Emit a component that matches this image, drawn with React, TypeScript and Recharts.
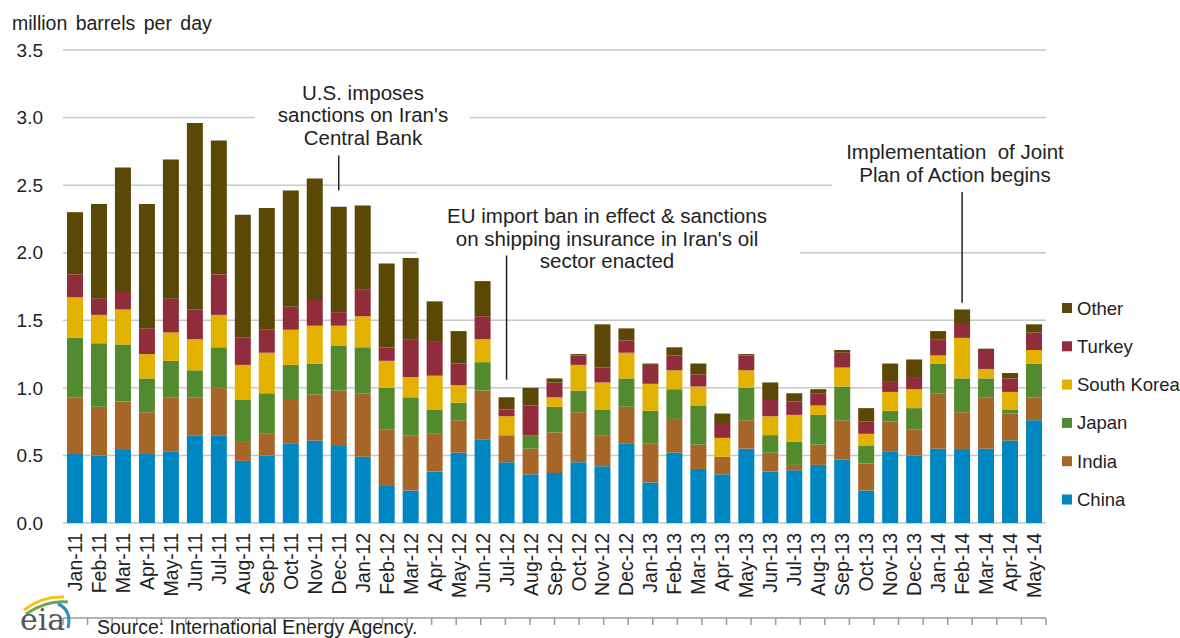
import React from "react";
import {
  BarChart,
  Bar,
  XAxis,
  YAxis,
  CartesianGrid,
  ReferenceLine,
} from "recharts";

const months = [
  "Jan-11", "Feb-11", "Mar-11", "Apr-11", "May-11", "Jun-11", "Jul-11", "Aug-11", "Sep-11", "Oct-11", "Nov-11", "Dec-11",
  "Jan-12", "Feb-12", "Mar-12", "Apr-12", "May-12", "Jun-12", "Jul-12", "Aug-12", "Sep-12", "Oct-12", "Nov-12", "Dec-12",
  "Jan-13", "Feb-13", "Mar-13", "Apr-13", "May-13", "Jun-13", "Jul-13", "Aug-13", "Sep-13", "Oct-13", "Nov-13", "Dec-13",
  "Jan-14", "Feb-14", "Mar-14", "Apr-14", "May-14",
];

const china = [
  0.51, 0.5, 0.54, 0.51, 0.53, 0.65, 0.65, 0.46, 0.5, 0.59, 0.61, 0.57,
  0.49, 0.28, 0.24, 0.38, 0.52, 0.62, 0.45, 0.36, 0.37, 0.45, 0.42, 0.59,
  0.3, 0.52, 0.4, 0.36, 0.55, 0.38, 0.39, 0.43, 0.47, 0.24, 0.53, 0.5,
  0.55, 0.54, 0.55, 0.61, 0.76,
];
const india = [
  0.42, 0.36, 0.36, 0.31, 0.4, 0.28, 0.35, 0.14, 0.16, 0.32, 0.34, 0.41,
  0.47, 0.41, 0.41, 0.28, 0.24, 0.36, 0.2, 0.19, 0.3, 0.37, 0.23, 0.27,
  0.29, 0.25, 0.18, 0.13, 0.21, 0.14, 0.04, 0.15, 0.29, 0.2, 0.22, 0.19,
  0.41, 0.28, 0.38, 0.2, 0.17,
];
const japan = [
  0.44, 0.47, 0.42, 0.25, 0.27, 0.2, 0.3, 0.31, 0.3, 0.26, 0.23, 0.33,
  0.34, 0.31, 0.28, 0.18, 0.13, 0.21, 0, 0.1, 0.19, 0.16, 0.19, 0.21,
  0.24, 0.22, 0.29, 0, 0.24, 0.13, 0.17, 0.22, 0.25, 0.13, 0.08, 0.16,
  0.22, 0.25, 0.14, 0.03, 0.25,
];
const southKorea = [
  0.3, 0.21, 0.26, 0.18, 0.21, 0.23, 0.24, 0.26, 0.3, 0.26, 0.28, 0.15,
  0.23, 0.2, 0.15, 0.25, 0.13, 0.17, 0.14, 0, 0.07, 0.19, 0.2, 0.19,
  0.2, 0.14, 0.14, 0.14, 0.13, 0.14, 0.2, 0.07, 0.14, 0.09, 0.14, 0.14,
  0.06, 0.3, 0.07, 0.13, 0.1,
];
const turkey = [
  0.17, 0.12, 0.13, 0.19, 0.25, 0.22, 0.3, 0.2, 0.17, 0.17, 0.19, 0.1,
  0.2, 0.1, 0.28, 0.25, 0.16, 0.17, 0.05, 0.22, 0.11, 0.07, 0.11, 0.09,
  0.14, 0.11, 0.09, 0.11, 0.11, 0.12, 0.1, 0.09, 0.11, 0.09, 0.08, 0.09,
  0.12, 0.11, 0.14, 0.1, 0.13,
];
const other = [
  0.46, 0.7, 0.92, 0.92, 1.03, 1.38, 0.99, 0.91, 0.9, 0.86, 0.9, 0.78,
  0.62, 0.62, 0.6, 0.3, 0.24, 0.26, 0.09, 0.13, 0.03, 0.01, 0.32, 0.09,
  0.01, 0.06, 0.08, 0.07, 0.01, 0.13, 0.06, 0.03, 0.02, 0.1, 0.13, 0.13,
  0.06, 0.1, 0.01, 0.04, 0.06,
];

const yTicks = [0, 0.5, 1, 1.5, 2, 2.5, 3, 3.5];

const series = [
  { key: "China", values: china, color: "#0086c0" },
  { key: "India", values: india, color: "#a66628" },
  { key: "Japan", values: japan, color: "#538a2f" },
  { key: "South Korea", values: southKorea, color: "#e3b100" },
  { key: "Turkey", values: turkey, color: "#902c3b" },
  { key: "Other", values: other, color: "#5b4706" },
];

const data = months.map((month, i) => {
  const row: Record<string, string | number> = { month };
  series.forEach((s) => {
    row[s.key] = s.values[i];
  });
  return row;
});

const boundaryTicks = months.map((_, i) => i).concat(months.length);

const FONT = '"Liberation Sans", Arial, sans-serif';
const TEXT = "#222";

function RotatedTick(props: any) {
  const { x, y, payload } = props;
  return (
    <g transform={`translate(${x},${y})`}>
      <text
        transform="rotate(-90)"
        x={-10}
        dy="0.36em"
        textAnchor="end"
        fontSize={19.5}
        fill={TEXT}
        fontFamily={FONT}
      >
        {payload.value}
      </text>
    </g>
  );
}

export default function App() {
  return (
    <div
      style={{
        position: "absolute",
        left: 0,
        top: 0,
        width: 1180,
        height: 638,
        background: "#fff",
        overflow: "hidden",
        fontFamily: FONT,
      }}
    >
      <BarChart
        width={1180}
        height={638}
        data={data}
        margin={{ top: 50, right: 134, left: 0, bottom: 10 }}
        barSize={16}
      >
        <CartesianGrid xAxisId="cat" vertical={false} stroke="#c8c8c8" strokeWidth={1.5} />
        <XAxis
          xAxisId="grid"
          type="number"
          domain={[0, months.length]}
          ticks={boundaryTicks}
          tickFormatter={() => ""}
          allowDataOverflow
          height={10}
          tickSize={7}
          axisLine={{ stroke: "#9a9a9a", strokeWidth: 1.5 }}
          tickLine={{ stroke: "#9a9a9a", strokeWidth: 1.5 }}
        />
        <XAxis
          xAxisId="cat"
          dataKey="month"
          interval={0}
          height={95}
          axisLine={false}
          tickLine={false}
          tickSize={0}
          tickMargin={0}
          tick={<RotatedTick />}
        />
        <YAxis
          domain={[0, 3.5]}
          ticks={yTicks}
          tickFormatter={(v: number) => v.toFixed(1)}
          axisLine={false}
          tickLine={false}
          width={63}
          tickMargin={14}
          tick={{ fontSize: 19, fill: TEXT, fontFamily: FONT }}
        />
        {series.map((s) => (
          <Bar
            key={s.key}
            xAxisId="cat"
            dataKey={s.key}
            stackId="a"
            fill={s.color}
            isAnimationActive={false}
          />
        ))}
        <ReferenceLine
          xAxisId="cat"
          segment={[{ x: "Dec-11", y: 2.46 }, { x: "Dec-11", y: 2.72 }]}
          stroke="#222"
          strokeWidth={1.5}
        />
        <ReferenceLine
          xAxisId="cat"
          segment={[{ x: "Jul-12", y: 1.06 }, { x: "Jul-12", y: 1.98 }]}
          stroke="#222"
          strokeWidth={1.5}
        />
        <ReferenceLine
          xAxisId="cat"
          segment={[{ x: "Feb-14", y: 1.63 }, { x: "Feb-14", y: 2.45 }]}
          stroke="#222"
          strokeWidth={1.5}
        />
      </BarChart>

      <svg
        width={1180}
        height={638}
        style={{ position: "absolute", left: 0, top: 0, pointerEvents: "none" }}
        fontFamily={FONT}
      >
        {/* annotation boxes hide the gridlines behind them */}
        <rect x={255} y={78} width={215} height={72} fill="#fff" />
        <rect x={417} y={200} width={383} height={54} fill="#fff" />
        <rect x={832} y={138} width={240} height={50} fill="#fff" />
        <rect x={1050} y={530} width={130} height={108} fill="#fff" />

        <g fontSize={20.5} fill={TEXT} textAnchor="middle">
          <text x={363} y={100}>U.S. imposes</text>
          <text x={363} y={122}>sanctions on Iran's</text>
          <text x={363} y={145}>Central Bank</text>
          <text x={607} y={223}>EU import ban in effect &amp; sanctions</text>
          <text x={607} y={246}>on shipping insurance in Iran's oil</text>
          <text x={607} y={268}>sector enacted</text>
          <text x={955} y={159} style={{ whiteSpace: "pre" }}>Implementation  of Joint</text>
          <text x={955} y={182}>Plan of Action begins</text>
        </g>

        <text x={12} y={30} fontSize={19.5} fill={TEXT} wordSpacing={3}>
          million barrels per day
        </text>

        {series
          .slice()
          .reverse()
          .map((s, i) => (
            <g key={s.key}>
              <rect x={1062} y={303 + i * 38.3} width={10} height={10} fill={s.color} />
              <text x={1077} y={314.5 + i * 38.3} fontSize={18.5} fill={TEXT}>
                {s.key}
              </text>
            </g>
          ))}

        <text x={97} y={634} fontSize={19.5} fill={TEXT}>
          Source: International Energy Agency.
        </text>

        <g>
          <path d="M24 610 Q42 596 64 597" stroke="#f2c31a" strokeWidth={3} fill="none" />
          <path d="M26 614 Q46 600 68 602" stroke="#6aa84f" strokeWidth={3} fill="none" />
          <path d="M58 604 Q72 610 68 628" stroke="#2e8bc9" strokeWidth={3} fill="none" />
          <text x={20} y={630} fontSize={30} fill="#555" fontFamily='"DejaVu Serif", serif'>
            eia
          </text>
        </g>
      </svg>
    </div>
  );
}
